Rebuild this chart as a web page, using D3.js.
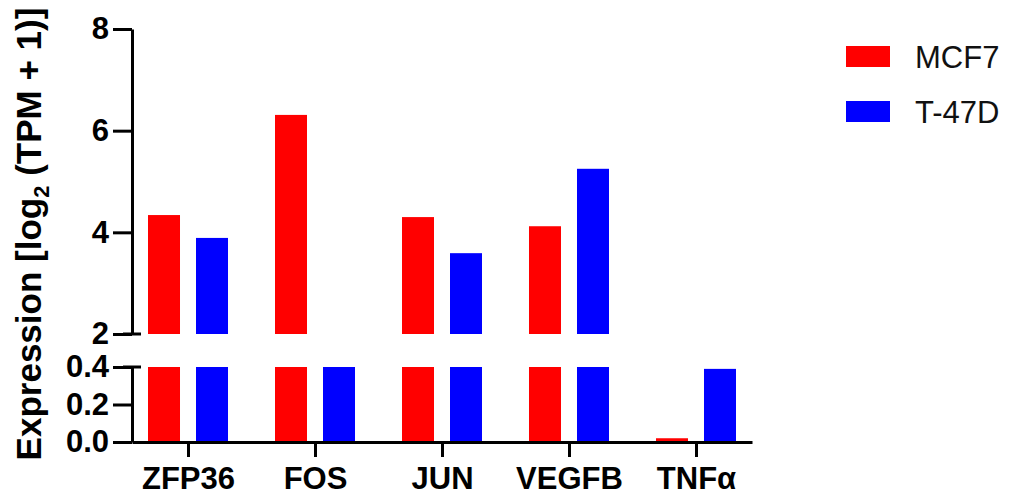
<!DOCTYPE html>
<html>
<head>
<meta charset="utf-8">
<script src="https://cdn.jsdelivr.net/npm/d3@7"></script>
<style>
  body { margin: 0; background: #fff; }
  svg text { font-family: "Liberation Sans", Arial, sans-serif; }
  .axis path, .axis line { stroke: #000; stroke-width: 3; }
  .axis text { font-size: 31px; font-weight: bold; fill: #000; }
</style>
</head>
<body>
<div id="chart"></div>
<script>
// data
var genes = ['ZFP36', 'FOS', 'JUN', 'VEGFB', 'TNFα'];
var series = ['MCF7', 'T-47D'];
var mcf7_values = [4.34, 6.31, 4.30, 4.12, 0.02];
var t47d_values = [3.89, 1.5, 3.59, 5.25, 0.39];
var upper_ticks = [2, 4, 6, 8];
var lower_ticks = [0, 0.2, 0.4];
var colors = ['#ff0000', '#0000ff'];

var width = 1016, height = 496;

var svg = d3.select('#chart')
    .append('svg')
    .attr('width', width)
    .attr('height', height);

// scales
var x_scale = d3.scalePoint()
    .domain(genes)
    .range([132, 752])
    .padding(0.441);

var x_inner = d3.scaleBand()
    .domain(series)
    .range([-40, 40])
    .paddingInner(1 / 3);

var y_upper = d3.scaleLinear().domain([2, 8]).range([334, 29]);
var y_lower = d3.scaleLinear().domain([0, 0.4]).range([442, 367]);

var rows = [];
genes.forEach(function(g, i) {
    rows.push({gene: g, key: series[0], value: mcf7_values[i], color: colors[0]});
    rows.push({gene: g, key: series[1], value: t47d_values[i], color: colors[1]});
});

// upper segment bars
svg.append('g')
  .selectAll('rect')
  .data(rows.filter(function(d) { return d.value > 2; }))
  .enter()
  .append('rect')
  .attr('x', function(d) { return x_scale(d.gene) + x_inner(d.key); })
  .attr('width', x_inner.bandwidth())
  .attr('y', function(d) { return y_upper(Math.min(d.value, 8)); })
  .attr('height', function(d) { return y_upper(2) - y_upper(Math.min(d.value, 8)); })
  .attr('fill', function(d) { return d.color; });

// lower segment bars
svg.append('g')
  .selectAll('rect')
  .data(rows)
  .enter()
  .append('rect')
  .attr('x', function(d) { return x_scale(d.gene) + x_inner(d.key); })
  .attr('width', x_inner.bandwidth())
  .attr('y', function(d) { return y_lower(Math.min(d.value, 0.4)); })
  .attr('height', function(d) { return y_lower(0) - y_lower(Math.min(d.value, 0.4)); })
  .attr('fill', function(d) { return d.color; });

// axes
svg.append('g')
    .attr('class', 'axis')
    .attr('transform', 'translate(0,442)')
    .call(d3.axisBottom(x_scale).tickSize(15).tickSizeOuter(0).tickPadding(10));

svg.append('g')
    .attr('class', 'axis')
    .attr('transform', 'translate(132,0)')
    .call(d3.axisLeft(y_upper).tickValues(upper_ticks).tickFormat(d3.format('d'))
          .tickSize(19).tickSizeOuter(0).tickPadding(4));

svg.append('g')
    .attr('class', 'axis')
    .attr('transform', 'translate(132,0)')
    .call(d3.axisLeft(y_lower).tickValues(lower_ticks).tickFormat(d3.format('.1f'))
          .tickSize(19).tickSizeOuter(0).tickPadding(4));

// break caps
[y_upper(2), y_lower(0.4)].forEach(function(y) {
    svg.append('line')
        .attr('x1', 123).attr('x2', 141)
        .attr('y1', y).attr('y2', y)
        .attr('stroke', '#000')
        .attr('stroke-width', 3);
});

// y-axis label
var title = svg.append('text')
    .attr('transform', 'translate(41,234) rotate(-90)')
    .attr('text-anchor', 'middle')
    .attr('font-size', '35px')
    .attr('font-weight', 'bold')
    .attr('fill', '#000');
title.append('tspan').text('Expression [log');
title.append('tspan').attr('font-size', '22px').attr('dy', 8).text('2');
title.append('tspan').attr('dy', -8).text(' (TPM + 1)]');

// legend
var legend = svg.append('g')
  .selectAll('g')
  .data(series)
  .enter()
  .append('g')
  .attr('transform', function(d, i) { return 'translate(846,' + (46 + i * 55) + ')'; });

legend.append('rect')
    .attr('width', 44)
    .attr('height', 21)
    .attr('fill', function(d, i) { return colors[i]; });

legend.append('text')
    .attr('x', 69)
    .attr('y', 22)
    .attr('font-size', '31px')
    .attr('fill', '#111')
    .text(function(d) { return d; });
</script>
</body>
</html>
